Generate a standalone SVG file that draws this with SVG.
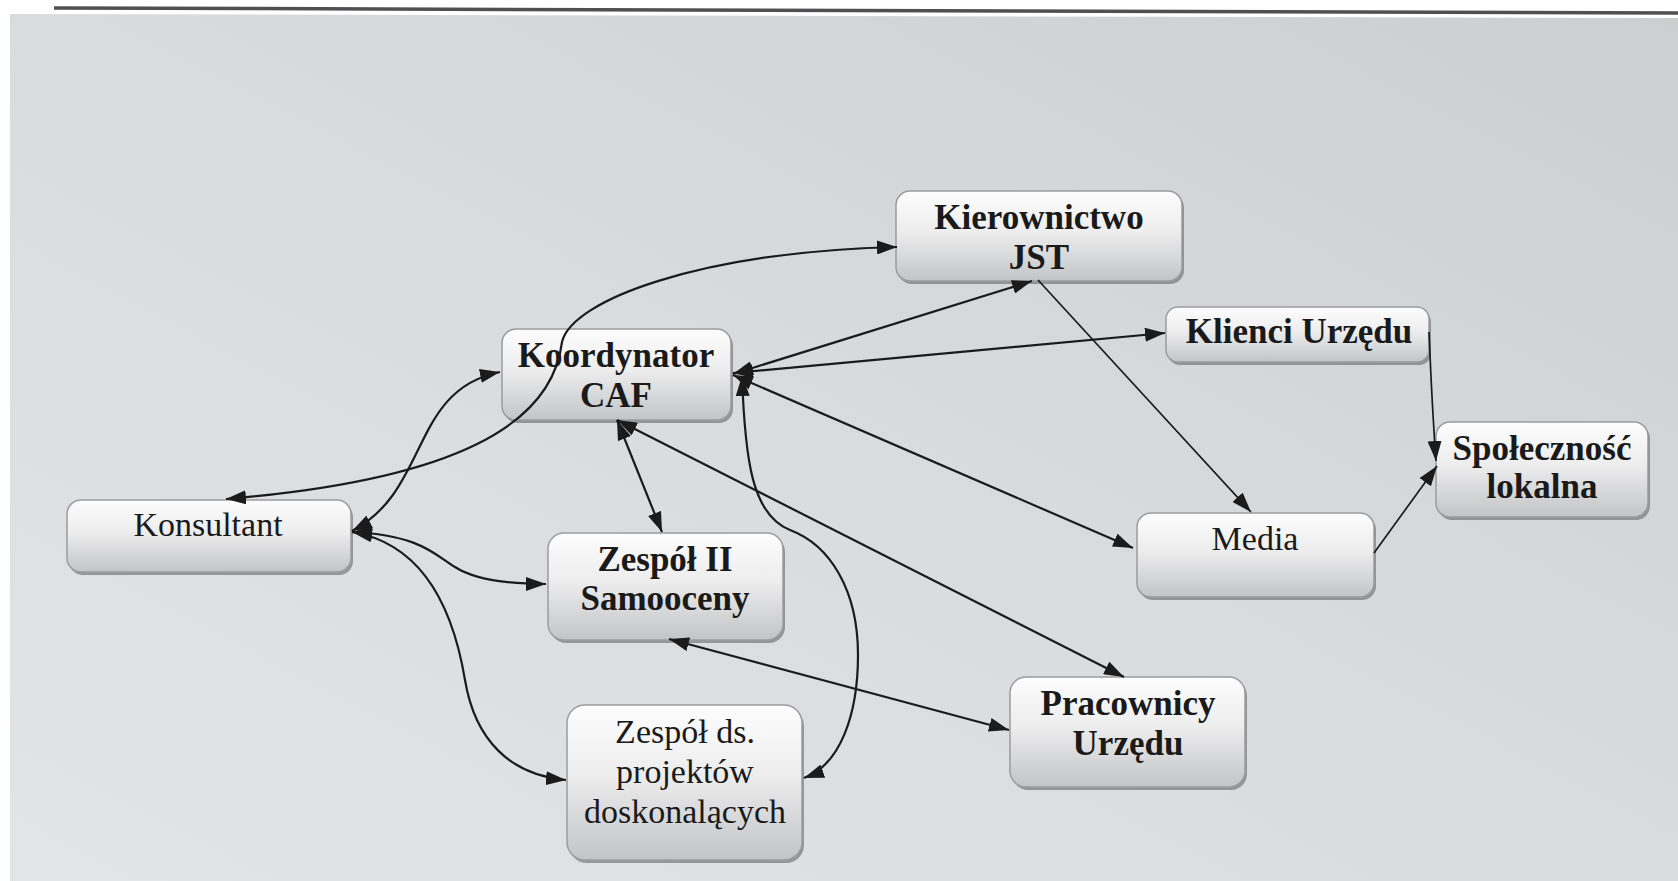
<svg xmlns="http://www.w3.org/2000/svg" width="1678" height="881" viewBox="0 0 1678 881">
  <defs>
    <linearGradient id="bg" x1="0" y1="1" x2="1" y2="0">
      <stop offset="0" stop-color="#e3e4e6"/>
      <stop offset="0.5" stop-color="#dadbdd"/>
      <stop offset="1" stop-color="#cdced0"/>
    </linearGradient>
    <linearGradient id="nodeFill" x1="0" y1="0" x2="0" y2="1">
      <stop offset="0" stop-color="#fdfdfd"/>
      <stop offset="0.45" stop-color="#ededee"/>
      <stop offset="1" stop-color="#c3c4c6"/>
    </linearGradient>
    <marker id="arr" viewBox="0 0 20 14" refX="20" refY="7" markerWidth="20" markerHeight="14" markerUnits="userSpaceOnUse" orient="auto-start-reverse">
      <path d="M0,0 L20,7 L0,14 z" fill="#1b1b1b"/>
    </marker>
  </defs>
  <style>
    .node rect.box { fill: url(#nodeFill); stroke: #9c9c9e; stroke-width: 1.5; }
    .node rect.shadow { fill: #6e6e70; opacity: 0.65; }
    .node text { font-family: "Liberation Serif", "Times New Roman", serif; fill: #1a1a1a; text-anchor: middle; }
    .b text { font-weight: bold; font-size: 35px; }
    .r text { font-size: 34px; }
    .conn path { fill: none; stroke: #1b1b1b; stroke-width: 2.2; }
    .conn path.thin { stroke-width: 1.7; }
    .two { marker-start: url(#arr); marker-end: url(#arr); }
    .one { marker-end: url(#arr); }
  </style>

  <rect x="0" y="0" width="1678" height="881" fill="#ffffff"/>
  <polygon points="10,14 1678,18 1678,881 10,881" fill="url(#bg)"/>
  <line x1="54" y1="8" x2="1678" y2="13" stroke="#505052" stroke-width="3.5"/>

  <g id="nodes">
    <g id="kierownictwo" class="node b">
      <rect class="shadow" x="898" y="194" width="286" height="90" rx="14"/>
      <rect class="box" x="896" y="191" width="286" height="90" rx="14"/>
      <text x="1039" y="229">Kierownictwo</text>
      <text x="1039" y="269">JST</text>
    </g>
    <g id="koordynator" class="node b">
      <rect class="shadow" x="504" y="332" width="229" height="91" rx="14"/>
      <rect class="box" x="502" y="329" width="229" height="91" rx="14"/>
      <text x="616" y="367">Koordynator</text>
      <text x="616" y="407">CAF</text>
    </g>
    <g id="klienci" class="node b">
      <rect class="shadow" x="1168" y="310" width="263" height="55" rx="12"/>
      <rect class="box" x="1166" y="307" width="263" height="55" rx="12"/>
      <text x="1299" y="343">Klienci Urzędu</text>
    </g>
    <g id="spolecznosc" class="node b">
      <rect class="shadow" x="1438" y="425" width="212" height="95" rx="14"/>
      <rect class="box" x="1436" y="422" width="212" height="95" rx="14"/>
      <text x="1542" y="460">Społeczność</text>
      <text x="1542" y="498">lokalna</text>
    </g>
    <g id="konsultant" class="node r">
      <rect class="shadow" x="69" y="503" width="284" height="72" rx="14"/>
      <rect class="box" x="67" y="500" width="284" height="72" rx="14"/>
      <text x="208" y="536">Konsultant</text>
    </g>
    <g id="zespol2" class="node b">
      <rect class="shadow" x="550" y="536" width="235" height="107" rx="16"/>
      <rect class="box" x="548" y="533" width="235" height="107" rx="16"/>
      <text x="665" y="571">Zespół II</text>
      <text x="665" y="610">Samooceny</text>
    </g>
    <g id="zespolds" class="node r">
      <rect class="shadow" x="569" y="708" width="235" height="155" rx="18"/>
      <rect class="box" x="567" y="705" width="235" height="155" rx="18"/>
      <text x="685" y="743">Zespół ds.</text>
      <text x="685" y="783">projektów</text>
      <text x="685" y="823">doskonalących</text>
    </g>
    <g id="media" class="node r">
      <rect class="shadow" x="1139" y="516" width="237" height="84" rx="14"/>
      <rect class="box" x="1137" y="513" width="237" height="84" rx="14"/>
      <text x="1255" y="550">Media</text>
    </g>
    <g id="pracownicy" class="node b">
      <rect class="shadow" x="1012" y="680" width="235" height="110" rx="16"/>
      <rect class="box" x="1010" y="677" width="235" height="110" rx="16"/>
      <text x="1128" y="715">Pracownicy</text>
      <text x="1128" y="755">Urzędu</text>
    </g>
  </g>

  <g id="connectors" class="conn">
    <path class="two" d="M226,499 C455,480 552,425 562,342 C572,300 700,252 897,247"/>
    <path class="two" d="M352,531 C430,490 410,390 500,372"/>
    <path class="two" d="M352,532 C420,535 435,555 455,567 C475,580 510,584 546,584"/>
    <path class="two" d="M352,532 C430,545 455,620 465,680 C475,740 510,775 566,780"/>
    <path class="two" d="M733,374 L1032,281"/>
    <path class="two" d="M733,373 L1165,333"/>
    <path class="two" d="M733,375 L1133,548"/>
    <path class="two" d="M742,376 C745,460 752,515 790,530 C830,545 858,590 858,655 C858,715 840,765 804,778"/>
    <path class="two" d="M617,420 L662,532"/>
    <path class="two" d="M617,420 L1124,677"/>
    <path class="two" d="M669,639 L1009,730"/>
    <path class="one thin" d="M1038,280 L1251,512"/>
    <path class="one thin" d="M1429,332 C1431,380 1433,420 1436,461"/>
    <path class="one thin" d="M1374,553 L1437,466"/>
  </g>
</svg>
